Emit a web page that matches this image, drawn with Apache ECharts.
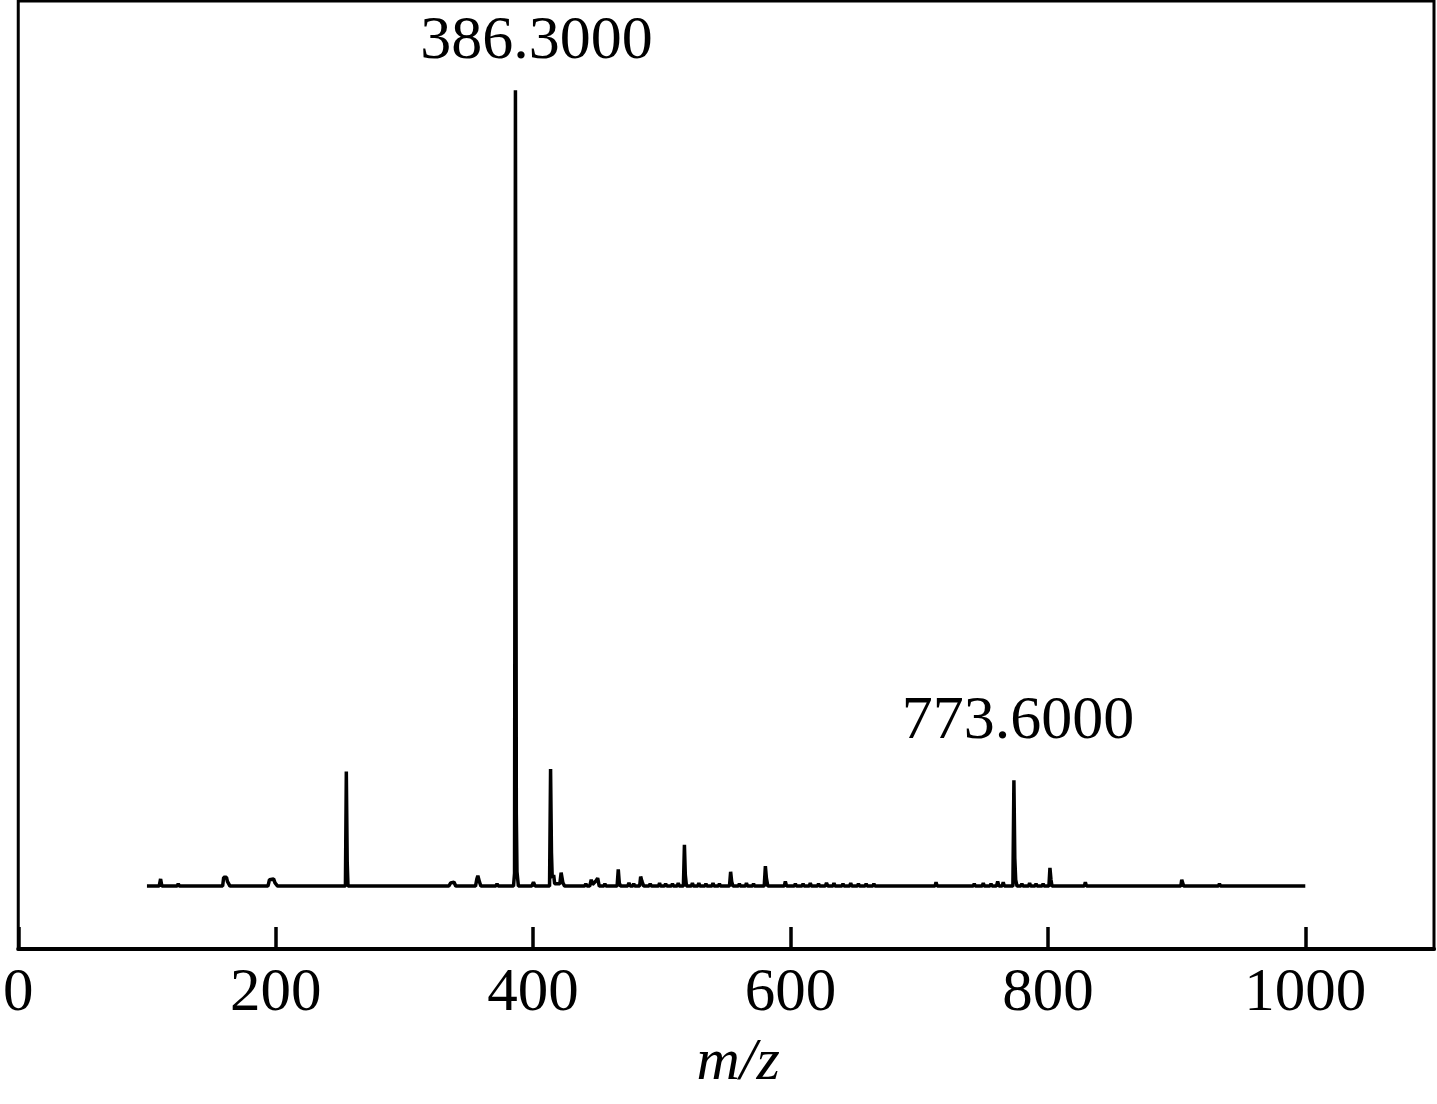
<!DOCTYPE html>
<html>
<head>
<meta charset="utf-8">
<script src="https://cdn.jsdelivr.net/npm/echarts@6/dist/echarts.min.js"></script>
<style>
html,body{margin:0;padding:0;background:#fff;}
#chart{width:1437px;height:1104px;}
</style>
</head>
<body>
<div id="chart"></div>
<script>
// m/z values of the spectrum trace (baseline points and peak apexes)
const specMz = [
 100.0, 109.5, 110.6, 111.6, 123.5, 124.3, 125.2,
 158.8, 159.6, 161.8, 162.5, 164.5, 194.0, 195.2, 198.4, 199.5, 201.5,
 254.2, 254.9, 255.6, 256.2, 313.0, 313.6, 314.2,
 334.5, 336.0, 338.5, 340.0, 355.3, 356.3, 357.1, 358.4, 359.5,
 365.0, 366.0, 367.0, 371.0, 372.0, 373.0,
 384.8, 385.6, 386.3, 387.0, 387.5, 388.6,
 399.0, 400.3, 401.6, 404.0, 404.6, 405.2,
 412.8, 413.6, 414.3, 414.9, 416.0, 416.8, 420.8, 421.8, 423.2, 424.5,
 428.0, 428.8, 429.6, 433.0, 433.6, 434.2, 440.0, 441.0, 442.0,
 444.0, 445.2, 446.2, 448.6, 450.2, 451.4, 455.0, 455.8, 456.6,
 465.3, 466.2, 467.0, 468.0, 473.5, 474.5, 475.5, 477.5, 478.2, 479.0,
 482.8, 483.6, 484.6, 486.0, 490.0, 491.0, 492.0, 497.5, 498.3, 499.0,
 502.0, 503.0, 504.0, 507.5, 508.3, 509.0, 512.0, 512.8, 513.6,
 516.8, 517.6, 518.3, 519.2, 523.0, 523.8, 524.6, 528.0, 528.8, 529.6,
 533.5, 534.3, 535.0, 539.0, 539.8, 540.6, 544.0, 544.8, 545.6,
 552.6, 553.5, 554.3, 555.3, 559.5, 560.3, 561.0, 565.0, 565.8, 566.6,
 570.5, 571.3, 572.0, 579.6, 580.5, 581.3, 582.4, 595.2, 596.0, 597.0,
 603.0, 603.8, 604.6, 609.0, 609.8, 610.6, 614.6, 615.4, 616.2,
 621.0, 621.8, 622.6, 627.0, 628.0, 629.0, 633.0, 633.8, 634.6,
 640.0, 640.8, 641.6, 646.0, 646.8, 647.6, 652.0, 652.8, 653.6,
 658.0, 658.8, 659.6, 664.0, 664.8, 665.6, 712.3, 713.1, 714.0,
 742.0, 742.8, 743.6, 749.0, 749.8, 750.6, 755.0, 755.8, 756.6,
 760.0, 761.0, 762.0, 764.5, 765.3, 766.2,
 772.8, 773.6, 774.3, 775.0, 776.0, 779.0, 779.8, 780.6,
 785.0, 785.8, 786.6, 790.0, 790.8, 791.6, 795.5, 796.3, 797.0,
 800.8, 801.6, 802.4, 803.2, 828.3, 829.1, 830.0,
 903.3, 904.0, 905.5, 932.5, 933.3, 934.1, 1000.0
];
// relative intensity (%) for each m/z above
const specInt = [
 0, 0, 0.9, 0, 0, 0.3, 0,
 0, 1.1, 1.1, 0.6, 0, 0, 0.8, 0.9, 0.4, 0,
 0, 14.4, 3.0, 0, 0, 0.2, 0,
 0, 0.4, 0.5, 0, 0, 0.9, 1.3, 0.5, 0,
 0, 0.2, 0, 0, 0.3, 0,
 0, 1.6, 100, 9.0, 1.8, 0,
 0, 0.5, 0, 0, 0.2, 0,
 0, 14.7, 4.2, 1.0, 1.4, 0.3, 0.3, 1.7, 0.4, 0,
 0, 0.2, 0, 0, 0.2, 0, 0, 0.3, 0,
 0, 0.8, 0.2, 0.6, 1.0, 0, 0, 0.3, 0,
 0, 2.1, 0.4, 0, 0, 0.4, 0, 0, 0.3, 0,
 0, 1.2, 0.6, 0, 0, 0.3, 0, 0, 0.4, 0,
 0, 0.3, 0, 0, 0.3, 0, 0, 0.4, 0,
 0, 5.2, 1.4, 0, 0, 0.4, 0, 0, 0.4, 0,
 0, 0.3, 0, 0, 0.4, 0, 0, 0.3, 0,
 0, 1.8, 0.6, 0, 0, 0.3, 0, 0, 0.4, 0,
 0, 0.3, 0, 0, 2.5, 1.0, 0, 0, 0.6, 0,
 0, 0.3, 0, 0, 0.3, 0, 0, 0.4, 0,
 0, 0.3, 0, 0, 0.4, 0, 0, 0.4, 0,
 0, 0.3, 0, 0, 0.4, 0, 0, 0.3, 0,
 0, 0.3, 0, 0, 0.3, 0, 0, 0.5, 0,
 0, 0.3, 0, 0, 0.4, 0, 0, 0.3, 0,
 0, 0.6, 0, 0, 0.5, 0,
 0, 13.3, 3.5, 0.8, 0, 0, 0.3, 0,
 0, 0.4, 0, 0, 0.3, 0, 0, 0.3, 0,
 0, 2.3, 0.8, 0, 0, 0.5, 0,
 0, 0.8, 0, 0, 0.3, 0, 0
];
// annotated peaks
const annoMz = [386.3, 773.6];
const annoInt = [100, 13.3];
const annoText = ['386.3000', '773.6000'];
// x-axis ticks
const xMin = 0, xMax = 1100, xStep = 200;
const xName = 'm/z';

const annoOffsets = [[21, -17], [4, -28]];
const serif = '"Liberation Serif", "Times New Roman", serif';

const chart = echarts.init(document.getElementById('chart'), null, {renderer: 'canvas'});
chart.setOption({
  animation: false,
  backgroundColor: '#ffffff',
  grid: {
    left: 17, right: 3, top: 1, bottom: 155,
    show: true, borderColor: '#000', borderWidth: 3, backgroundColor: 'transparent'
  },
  xAxis: {
    type: 'value',
    min: xMin, max: xMax, interval: xStep,
    name: xName,
    nameLocation: 'middle',
    nameGap: 84,
    nameTextStyle: {
      fontFamily: serif, fontSize: 60, fontStyle: 'italic', color: '#000',
      padding: [0, 0, 0, 24]
    },
    axisLine: {show: true, onZero: false, lineStyle: {color: '#000', width: 4}},
    axisTick: {show: true, inside: true, length: 22, lineStyle: {color: '#000', width: 3.5}},
    axisLabel: {
      show: true, margin: 14, showMaxLabel: false,
      formatter: v => String(v),
      fontFamily: serif, fontSize: 61, color: '#000'
    },
    splitLine: {show: false}
  },
  yAxis: {
    type: 'value',
    min: -7.9, max: 111.2,
    show: false,
    splitLine: {show: false}
  },
  series: [
    {
      type: 'line',
      data: specMz.map((m, i) => [m, specInt[i]]),
      symbol: 'none',
      lineStyle: {color: '#000', width: 3.5, join: 'bevel'},
      silent: true
    },
    {
      type: 'scatter',
      symbolSize: 0,
      itemStyle: {color: '#000', opacity: 1},
      label: {
        show: true,
        position: 'top',
        distance: 0,
        formatter: p => annoText[p.dataIndex],
        fontFamily: serif, fontSize: 62, color: '#000000', opacity: 1,
        textBorderWidth: 0
      },
      emphasis: {disabled: true},
      data: annoMz.map((m, i) => ({
        value: [m, annoInt[i]],
        label: {offset: annoOffsets[i]}
      })),
      silent: true
    }
  ]
});
</script>
</body>
</html>
